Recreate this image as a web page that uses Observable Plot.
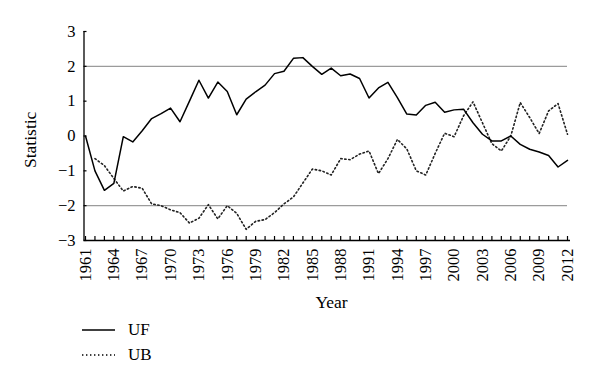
<!DOCTYPE html>
<html><head><meta charset="utf-8">
<script src="https://cdn.jsdelivr.net/npm/d3@7"></script>
<script src="https://cdn.jsdelivr.net/npm/@observablehq/plot@0.6"></script>
<style>
html,body{margin:0;padding:0;background:#fff;}
body{width:600px;height:388px;overflow:hidden;font-family:"Liberation Serif","DejaVu Serif",serif;color:#000;}
#legend{position:relative;height:68px;}
.row{position:absolute;left:82px;height:20px;display:flex;align-items:center;font-size:17px;}
.row svg{margin-right:13px;}
</style></head><body>
<div id="chart"></div>
<div id="legend"></div>
<script>
// Years (categories)
const years = [1961,1962,1963,1964,1965,1966,1967,1968,1969,1970,1971,1972,1973,1974,1975,1976,1977,1978,1979,1980,1981,1982,1983,1984,1985,1986,1987,1988,1989,1990,1991,1992,1993,1994,1995,1996,1997,1998,1999,2000,2001,2002,2003,2004,2005,2006,2007,2008,2009,2010,2011,2012];
// UF series (forward statistic), 1961–2012
const ufValues = [0,-1.0,-1.56,-1.36,-0.02,-0.17,0.15,0.5,0.64,0.8,0.41,1.0,1.6,1.09,1.55,1.28,0.61,1.06,1.27,1.46,1.79,1.86,2.23,2.25,2.0,1.77,1.95,1.73,1.78,1.65,1.09,1.38,1.54,1.1,0.63,0.6,0.88,0.97,0.68,0.75,0.77,0.38,0.05,-0.14,-0.14,0.0,-0.24,-0.38,-0.46,-0.56,-0.89,-0.7];
// UB series (backward statistic), 1962–2012
const ubYears = years.slice(1);
const ubValues = [-0.65,-0.85,-1.22,-1.58,-1.45,-1.5,-1.95,-2.0,-2.12,-2.2,-2.5,-2.36,-1.97,-2.38,-2.0,-2.22,-2.68,-2.45,-2.4,-2.2,-1.95,-1.75,-1.35,-0.95,-1.0,-1.12,-0.65,-0.68,-0.52,-0.43,-1.08,-0.65,-0.1,-0.37,-1.0,-1.12,-0.5,0.08,-0.02,0.58,0.98,0.38,-0.22,-0.43,0.0,0.96,0.53,0.07,0.72,0.93,0.05];
// Tick labels
const xTickLabels = [1961,1964,1967,1970,1973,1976,1979,1982,1985,1988,1991,1994,1997,2000,2003,2006,2009,2012];
const yTicks = [-3,-2,-1,0,1,2,3];
const thresholds = [2,-2];
const seriesNames = ["UF","UB"];

const uf = years.map((y,i)=>({year:y, value:ufValues[i]}));
const ub = ubYears.map((y,i)=>({year:y, value:ubValues[i]}));
const fmtY = d => d < 0 ? "\u2212" + Math.abs(d) : String(d);

const chart = Plot.plot({
  width: 600, height: 320,
  marginLeft: 85, marginRight: 33, marginTop: 31, marginBottom: 80,
  style: {fontFamily: "'Liberation Serif', 'DejaVu Serif', serif", fontSize: "16px", color: "#000", background: "#fff", overflow: "visible"},
  x: {domain: [1961, 2012]},
  y: {domain: [-3, 3]},
  marks: [
    Plot.ruleY(thresholds, {stroke: "#9b9b9b", strokeWidth: 1.4}),
    Plot.ruleX([1961], {dx: -1.5, stroke: "#000", strokeWidth: 1.3}),
    Plot.ruleY([-3], {stroke: "#000", strokeWidth: 1.3, insetLeft: -1.5, insetRight: -3}),
    Plot.axisY(yTicks, {tickSize: -3, tickFormat: () => "", label: null, dx: -1.5, strokeWidth: 1.2}),
    Plot.axisY(yTicks, {tickSize: 0, tickPadding: 10, tickFormat: fmtY, label: null, fontSize: 16.5}),
    Plot.axisX(years, {tickSize: -4, tickFormat: () => "", label: null, strokeWidth: 1.2}),
    Plot.axisX(xTickLabels, {tickSize: 0, tickPadding: 8, tickRotate: -90, tickFormat: d => String(d), label: null, fontSize: 16.5}),
    Plot.text(["Statistic"], {frameAnchor: "left", rotate: -90, dx: -55, dy: 32, fontSize: 17.5}),
    Plot.text(["Year"], {frameAnchor: "bottom", dx: 5, dy: 67, fontSize: 17.5}),
    Plot.line(ub, {x: "year", y: "value", stroke: "#222", strokeWidth: 1.6, strokeDasharray: "1.4 2.6"}),
    Plot.line(uf, {x: "year", y: "value", stroke: "#000", strokeWidth: 1.5})
  ]
});
document.getElementById("chart").appendChild(chart);

const legend = document.getElementById("legend");
const dashes = {UF: null, UB: "1.4 2.6"};
const rowsTop = {UF: 0, UB: 25};
seriesNames.forEach(name => {
  const row = document.createElement("div");
  row.className = "row";
  row.style.top = rowsTop[name] + "px";
  row.innerHTML = `<svg width="33" height="10"><line x1="0" y1="5" x2="33" y2="5" stroke="#000" stroke-width="1.5" ${dashes[name] ? `stroke-dasharray="${dashes[name]}"` : ""}/></svg><span>${name}</span>`;
  legend.appendChild(row);
});
</script>
</body></html>
